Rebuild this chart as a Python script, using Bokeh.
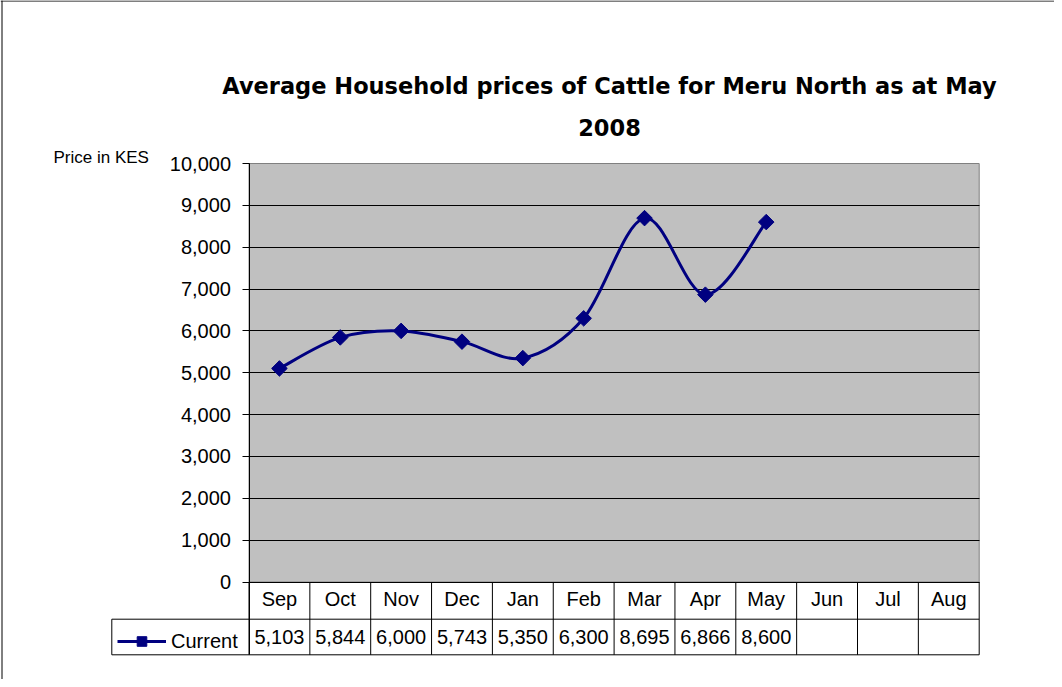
import math
from bokeh.plotting import figure
from bokeh.models import (Range1d, FixedTicker, NumeralTickFormatter, Label,
                          Legend, LegendItem, Span)
from bokeh.core.properties import value
from bokeh.embed import file_html
from bokeh.resources import INLINE

# ---------------- data ----------------
months = ["Sep", "Oct", "Nov", "Dec", "Jan", "Feb", "Mar", "Apr", "May", "Jun", "Jul", "Aug"]
prices = [5103, 5844, 6000, 5743, 5350, 6300, 8695, 6866, 8600]
y_ticks = [0, 1000, 2000, 3000, 4000, 5000, 6000, 7000, 8000, 9000, 10000]
series_name = "Current"
title_line1 = "Average Household prices of Cattle for Meru North as at May"
title_line2 = "2008"
y_title = "Price in KES"

# ---------------- layout (page pixels) ----------------
W, H = 1054, 679
OFF = 8
X0_PX, XN_PX = 256.5, 986.7      # plot area left / right
Y0_PX, YMAX_PX = 589.5, 171.0    # value 0 / value max
N = len(months)
Y_MAX = y_ticks[-1]


def dx(px):
    return (px - X0_PX) / (XN_PX - X0_PX) * N


def dy(px):
    return (Y0_PX - px) / (Y0_PX - YMAX_PX) * Y_MAX


row1_bottom = dy(626.7)
table_bottom = dy(662.3)
legend_left = dx(119.3)

FONT = "Liberation Sans"

p = figure(width=W, height=H, output_backend="svg", toolbar_location=None,
           x_range=Range1d(dx(OFF), dx(OFF + W)),
           y_range=Range1d(dy(OFF + H), dy(OFF)),
           min_border_left=0, min_border_right=0, min_border_top=0, min_border_bottom=0)
p.background_fill_color = "white"
p.border_fill_color = "white"
p.outline_line_color = None

# chart border (top and left; right/bottom lie outside the visible area)
p.add_layout(Span(location=dy(OFF + 0.5), dimension="width", line_color="black", line_width=1))
p.add_layout(Span(location=dx(OFF + 1.5), dimension="height", line_color="black", line_width=1))

# plot area background
p.quad(left=[0], right=[N], bottom=[0], top=[Y_MAX], fill_color="#C0C0C0",
       line_color="#808080", line_width=1, level="image")

# grid
p.xgrid.visible = False
g = p.ygrid[0]
g.ticker = FixedTicker(ticks=y_ticks[1:-1])
g.grid_line_color = "black"
g.grid_line_width = 1
if "cross_bounds" in g.properties():
    g.cross_bounds = (0, N)

# y axis
ya = p.yaxis[0]
ya.fixed_location = 0
ya.bounds = (table_bottom, Y_MAX)
ya.ticker = FixedTicker(ticks=y_ticks)
ya.formatter = NumeralTickFormatter(format="0,0")
ya.major_tick_out = 7
ya.major_tick_in = 0
ya.minor_tick_out = 0
ya.minor_tick_in = 0
ya.major_label_standoff = 11
ya.major_label_text_font = FONT
ya.major_label_text_font_size = "20px"
ya.major_label_text_color = "black"
ya.axis_line_color = "black"
ya.major_tick_line_color = "black"

# x axis: month labels in the first table row
centers = [i + 0.5 for i in range(N)]
xa = p.xaxis[0]
xa.fixed_location = 0
xa.bounds = (0, N)
xa.ticker = FixedTicker(ticks=centers)
xa.major_label_overrides = {c: m for c, m in zip(centers, months)}
xa.major_tick_out = 0
xa.major_tick_in = 0
xa.major_tick_line_color = None
xa.minor_tick_line_color = None
xa.major_label_standoff = 6
xa.major_label_text_font = FONT
xa.major_label_text_font_size = "20px"
xa.major_label_text_color = "black"
xa.axis_line_color = "black"

# data table lines
bounds_x = list(range(N + 1))
seg_x0 = [legend_left, legend_left] + bounds_x + [legend_left]
seg_x1 = [N, N] + bounds_x + [legend_left]
seg_y0 = [row1_bottom, table_bottom] + [0] * len(bounds_x) + [row1_bottom]
seg_y1 = [row1_bottom, table_bottom] + [table_bottom] * len(bounds_x) + [table_bottom]
p.segment(x0=seg_x0, y0=seg_y0, x1=seg_x1, y1=seg_y1, line_color="black", line_width=1)

# data table values
val_x = centers[:len(prices)]
p.text(x=val_x, y=[dy(644.5)] * len(prices), text=[f"{v:,}" for v in prices],
       text_align="center", text_baseline="alphabetic",
       text_font=value(FONT), text_font_size="20px", text_color="black")

# smoothed series line (Bezier segments through data points)
n = len(prices)
xs = val_x
ys = prices
bx0, by0, bx1, by1, cx0, cy0, cx1, cy1 = [], [], [], [], [], [], [], []
for i in range(n - 1):
    a = max(i - 1, 0)
    d = min(i + 2, n - 1)
    bx0.append(xs[i]); by0.append(ys[i])
    bx1.append(xs[i + 1]); by1.append(ys[i + 1])
    cx0.append(xs[i] + (xs[i + 1] - xs[a]) / 6)
    cy0.append(ys[i] + (ys[i + 1] - ys[a]) / 6)
    cx1.append(xs[i + 1] - (xs[d] - xs[i]) / 6)
    cy1.append(ys[i + 1] - (ys[d] - ys[i]) / 6)
NAVY = "#000080"
r_line = p.bezier(x0=bx0, y0=by0, x1=bx1, y1=by1, cx0=cx0, cy0=cy0, cx1=cx1, cy1=cy1,
                  line_color=NAVY, line_width=3)
r_pts = p.scatter(x=xs, y=ys, marker="square", angle=math.pi / 4, size=11,
                  fill_color=NAVY, line_color=NAVY, line_width=1)

legend = Legend(items=[LegendItem(label=series_name, renderers=[r_line, r_pts])],
                location=(117, 26), padding=0, margin=0, spacing=0,
                glyph_width=49, glyph_height=24, label_height=24, label_standoff=5,
                label_text_font=FONT, label_text_font_size="20px", label_text_color="black",
                background_fill_alpha=0, border_line_color=None)
p.add_layout(legend)

# titles
p.add_layout(Label(x=dx(617), y=dy(93.5), text=title_line1, text_align="center",
                   text_baseline="alphabetic", text_font="DejaVu Sans", text_font_style="bold",
                   text_font_size="22.5px", text_color="black"))
p.add_layout(Label(x=dx(617), y=dy(134.5), text=title_line2, text_align="center",
                   text_baseline="alphabetic", text_font="DejaVu Sans", text_font_style="bold",
                   text_font_size="22.5px", text_color="black"))
p.add_layout(Label(x=dx(61), y=dy(165), text=y_title, text_align="left",
                   text_baseline="alphabetic", text_font=FONT, text_font_size="17px",
                   text_color="black"))

open("out.html", "w").write(file_html(p, INLINE))
